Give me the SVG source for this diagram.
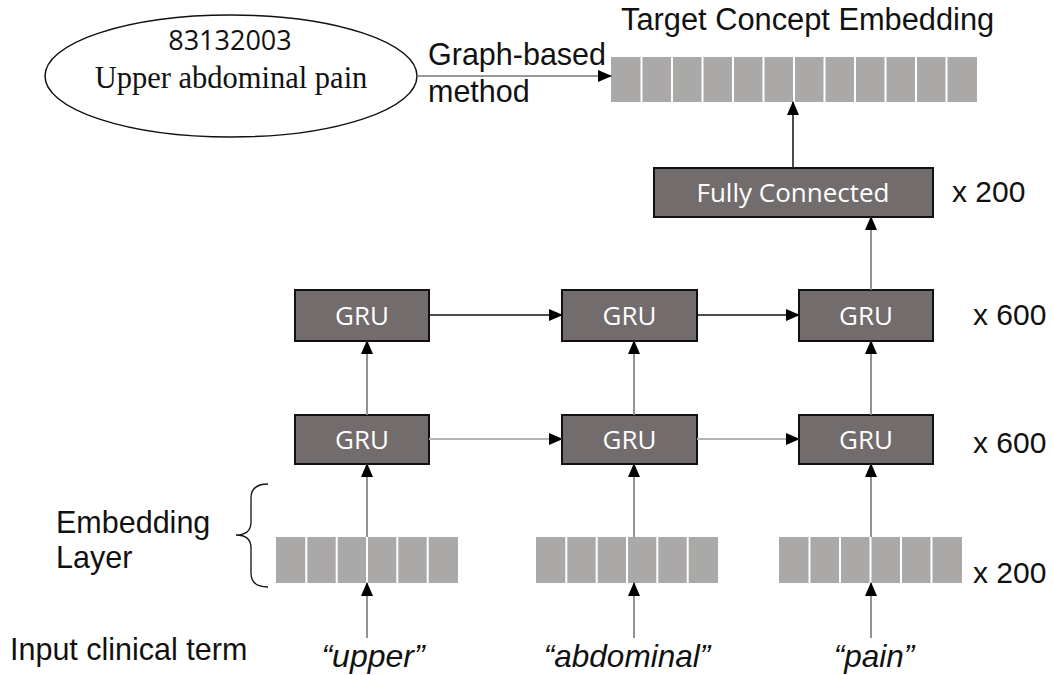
<svg xmlns="http://www.w3.org/2000/svg" width="1053" height="675" viewBox="0 0 1053 675">
<defs>
<marker id="ah" markerUnits="userSpaceOnUse" markerWidth="14" markerHeight="12" refX="13" refY="6" orient="auto">
<path d="M0,0 L14,6 L0,12 Z" fill="#000"/>
</marker>
<style>
.sans{font-family:"Liberation Sans",Arial,sans-serif;fill:#111}
.cal{font-family:"Open Sans","Liberation Sans",sans-serif}
.box{fill:#726c6c;stroke:#111;stroke-width:2}
.bt{font-family:"Open Sans","Liberation Sans",sans-serif;font-size:26px;fill:#fff;text-anchor:middle}
.cell{fill:#aba8a8}
.sep{stroke:#fff;stroke-width:2}
.blk{stroke:#111;stroke-width:1.5;fill:none}
.gry{stroke:#888;stroke-width:1.8;fill:none}
.lgry{stroke:#b4b4b4;stroke-width:1.8;fill:none}
</style>
</defs>
<rect width="1053" height="675" fill="#fff"/>

<g id="concept">
<ellipse cx="231" cy="76" rx="186" ry="61" fill="#fff" stroke="#111" stroke-width="1.5"/>
<text x="230" y="50" class="cal" font-size="27" fill="#111" text-anchor="middle">83132003</text>
<text x="231" y="88" font-family="'Liberation Serif','Times New Roman',serif" font-size="30.5" fill="#111" text-anchor="middle">Upper abdominal pain</text>
</g>

<g id="graph-label">
<text x="428" y="65" class="sans" font-size="30.5">Graph-based</text>
<text x="428" y="102" class="sans" font-size="30.5">method</text>
</g>

<g id="target">
<text x="621" y="30" class="sans" font-size="30.8">Target Concept Embedding</text>
<rect x="611" y="57" width="366" height="45" class="cell"/>
<path class="sep" d="M641.5,57V102M672,57V102M702.5,57V102M733,57V102M763.5,57V102M794,57V102M824.5,57V102M855,57V102M885.5,57V102M916,57V102M946.5,57V102"/>
</g>

<g id="fc">
<rect x="654" y="168" width="279" height="49" class="box"/>
<text x="793" y="202" class="bt" font-size="27.5">Fully Connected</text>
</g>

<g id="gru-top-1"><rect x="295" y="290" width="134" height="51" class="box"/><text x="362" y="325" class="bt">GRU</text></g>
<g id="gru-top-2"><rect x="562" y="290" width="135" height="51" class="box"/><text x="629.5" y="325" class="bt">GRU</text></g>
<g id="gru-top-3"><rect x="799" y="290" width="134" height="51" class="box"/><text x="866" y="325" class="bt">GRU</text></g>
<g id="gru-bot-1"><rect x="295" y="415" width="134" height="49" class="box"/><text x="362" y="449" class="bt">GRU</text></g>
<g id="gru-bot-2"><rect x="562" y="415" width="135" height="49" class="box"/><text x="629.5" y="449" class="bt">GRU</text></g>
<g id="gru-bot-3"><rect x="799" y="415" width="134" height="49" class="box"/><text x="866" y="449" class="bt">GRU</text></g>

<g id="emb-1">
<rect x="276" y="537" width="182" height="46" class="cell"/>
<path class="sep" d="M306.3,537V583M336.7,537V583M367,537V583M397.3,537V583M427.7,537V583"/>
</g>
<g id="emb-2">
<rect x="536" y="537" width="182" height="46" class="cell"/>
<path class="sep" d="M566.3,537V583M596.7,537V583M627,537V583M657.3,537V583M687.7,537V583"/>
</g>
<g id="emb-3">
<rect x="779" y="537" width="183" height="46" class="cell"/>
<path class="sep" d="M809.5,537V583M840,537V583M870.5,537V583M901,537V583M931.5,537V583"/>
</g>

<g id="labels">
<text x="952" y="202" class="sans" font-size="30">x 200</text>
<text x="973" y="325" class="sans" font-size="30">x 600</text>
<text x="973" y="453" class="sans" font-size="30">x 600</text>
<text x="973" y="583" class="sans" font-size="30">x 200</text>
<text x="56" y="533" class="sans" font-size="30.5">Embedding</text>
<text x="56" y="568" class="sans" font-size="30.5">Layer</text>
<path d="M268,484 Q251,484 251,498 L251,522 Q251,535 236,535 Q251,535 251,548 L251,573 Q251,587 268,587" fill="none" stroke="#111" stroke-width="1.3"/>
<text x="10" y="660" class="sans" font-size="30.5">Input clinical term</text>
<text x="373" y="667" class="sans" font-size="32" font-style="italic" text-anchor="middle">“upper”</text>
<text x="627" y="667" class="sans" font-size="31.5" font-style="italic" text-anchor="middle">“abdominal”</text>
<text x="874" y="667" class="sans" font-size="31.5" font-style="italic" text-anchor="middle">“pain”</text>
</g>

<g id="connectors">
<line x1="417" y1="76" x2="611" y2="76" stroke="#777" stroke-width="1.5" marker-end="url(#ah)"/>
<line x1="793" y1="168" x2="793" y2="102" class="blk" marker-end="url(#ah)"/>
<line x1="871" y1="290" x2="871" y2="217" class="gry" marker-end="url(#ah)"/>
<line x1="429" y1="315" x2="562" y2="315" class="blk" marker-end="url(#ah)"/>
<line x1="697" y1="315" x2="799" y2="315" class="blk" marker-end="url(#ah)"/>
<line x1="429" y1="439" x2="562" y2="439" class="lgry" marker-end="url(#ah)"/>
<line x1="697" y1="439" x2="799" y2="439" class="lgry" marker-end="url(#ah)"/>
<line x1="367" y1="415" x2="367" y2="341" class="gry" marker-end="url(#ah)"/>
<line x1="634" y1="415" x2="634" y2="341" class="gry" marker-end="url(#ah)"/>
<line x1="871" y1="415" x2="871" y2="341" class="gry" marker-end="url(#ah)"/>
<line x1="367" y1="537" x2="367" y2="464" class="gry" marker-end="url(#ah)"/>
<line x1="634" y1="537" x2="634" y2="464" class="gry" marker-end="url(#ah)"/>
<line x1="871" y1="537" x2="871" y2="464" class="gry" marker-end="url(#ah)"/>
<line x1="367" y1="638" x2="367" y2="583" class="gry" marker-end="url(#ah)"/>
<line x1="634" y1="638" x2="634" y2="583" class="gry" marker-end="url(#ah)"/>
<line x1="871" y1="638" x2="871" y2="583" class="gry" marker-end="url(#ah)"/>
</g>
</svg>
